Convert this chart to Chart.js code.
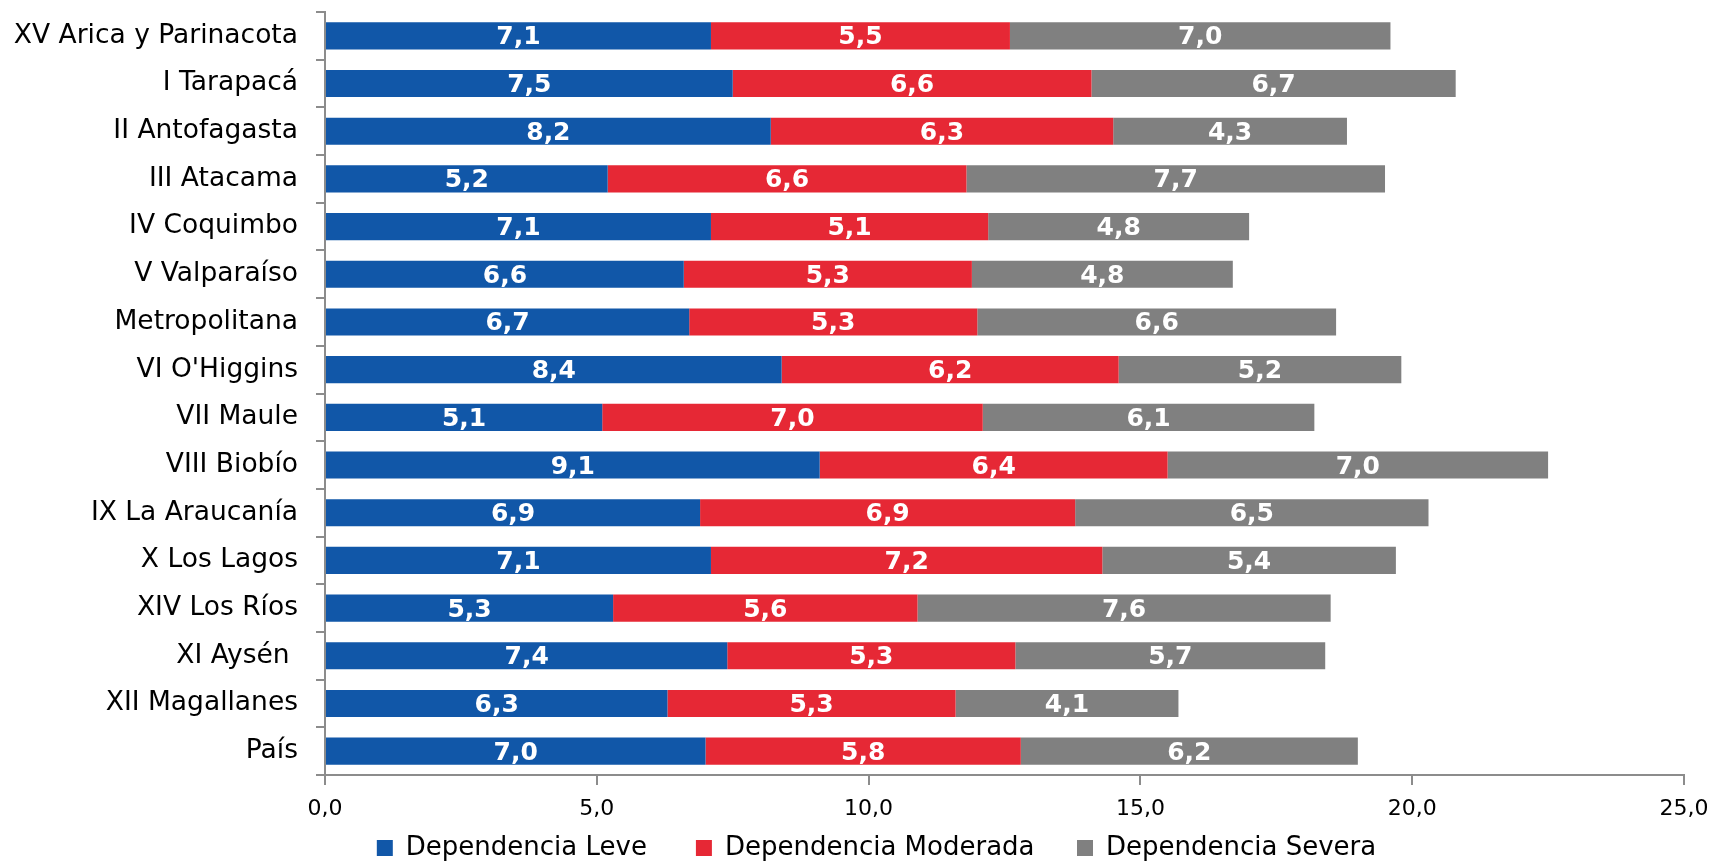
<!DOCTYPE html>
<html>
<head>
<meta charset="utf-8">
<script src="https://cdn.jsdelivr.net/npm/chart.js@4"></script>
<style>
  html, body { margin: 0; padding: 0; background: #fff; }
  #wrap { width: 1709px; height: 861px; }
</style>
</head>
<body>
<div id="wrap"><canvas id="chart-dependencia"></canvas></div>
<script>
// datos por región
const regiones = ['XV Arica y Parinacota','I Tarapacá','II Antofagasta','III Atacama','IV Coquimbo',
  'V Valparaíso','Metropolitana',"VI O'Higgins",'VII Maule','VIII Biobío','IX La Araucanía',
  'X Los Lagos','XIV Los Ríos','XI Aysén ','XII Magallanes','País'];
const leve     = [7.1,7.5,8.2,5.2,7.1,6.6,6.7,8.4,5.1,9.1,6.9,7.1,5.3,7.4,6.3,7.0];
const moderada = [5.5,6.6,6.3,6.6,5.1,5.3,5.3,6.2,7.0,6.4,6.9,7.2,5.6,5.3,5.3,5.8];
const severa   = [7.0,6.7,4.3,7.7,4.8,4.8,6.6,5.2,6.1,7.0,6.5,5.4,7.6,5.7,4.1,6.2];
const ejeX     = [0, 5, 10, 15, 20, 25];

const FONT = '"DejaVu Sans", Verdana, sans-serif';
const fmt = v => v.toFixed(1).replace('.', ',');

// etiquetas blancas dentro de cada barra
const etiquetas = {
  id: 'etiquetas',
  afterLayout(chart) {
    // la leyenda original no queda centrada en el lienzo
    chart.legend.left += 22;
    chart.legend.right += 22;
  },
  afterDatasetsDraw(chart) {
    const ctx = chart.ctx;
    ctx.save();
    ctx.fillStyle = '#fff';
    ctx.font = 'bold 25px ' + FONT;
    ctx.textAlign = 'center';
    ctx.textBaseline = 'middle';
    chart.data.datasets.forEach((ds, i) => {
      chart.getDatasetMeta(i).data.forEach((bar, j) => {
        const p = bar.getProps(['x', 'y', 'base'], true);
        ctx.fillText(fmt(ds.data[j]), (p.x + p.base) / 2, p.y + 2);
      });
    });
    ctx.restore();
  }
};

const ax = '#8c8c8c';
const espacios = ['\u2002\u2002\u2002', '\u2002\u2002\u2005', ''];

new Chart(document.getElementById('chart-dependencia'), {
  type: 'bar',
  data: {
    labels: regiones,
    datasets: [
      { label: 'Dependencia Leve', data: leve, backgroundColor: '#1157a8' },
      { label: 'Dependencia Moderada', data: moderada, backgroundColor: '#e62835' },
      { label: 'Dependencia Severa', data: severa, backgroundColor: '#808080' }
    ]
  },
  options: {
    indexAxis: 'y',
    responsive: true,
    maintainAspectRatio: false,
    animation: false,
    layout: { padding: { top: 12, right: 0, left: 0, bottom: 0 } },
    datasets: { bar: { categoryPercentage: 0.57, barPercentage: 1 } },
    scales: {
      x: {
        stacked: true, min: 0, max: 25,
        afterBuildTicks: s => { s.ticks = ejeX.map(v => ({ value: v })); },
        afterFit: s => { s.height = 50; s.paddingRight = 25; },
        border: { color: ax, width: 2 },
        grid: { drawOnChartArea: false, color: ax, lineWidth: 2, tickLength: 10 },
        ticks: { color: '#000', font: { family: FONT, size: 22 }, padding: 11,
                 callback: v => fmt(v) }
      },
      y: {
        stacked: true,
        afterFit: s => { s.width = 325; s.paddingTop = 0; s.paddingBottom = 0; },
        border: { color: ax, width: 2 },
        grid: { drawOnChartArea: false, color: ax, lineWidth: 2, tickLength: 9, offset: true },
        ticks: { color: '#000', font: { family: FONT, size: 26.5 }, padding: 18 }
      }
    },
    plugins: {
      legend: {
        position: 'bottom',
        maxHeight: 36,
        labels: {
          color: '#000', font: { family: FONT, size: 26 }, boxWidth: 16, boxHeight: 16, padding: 10,
          // espacio extra entre elementos de la leyenda
          generateLabels: chart => {
            const items = Chart.defaults.plugins.legend.labels.generateLabels(chart);
            items.forEach((it, i) => { it.text += espacios[i] || ''; });
            return items;
          }
        }
      },
      tooltip: { enabled: false }
    }
  },
  plugins: [etiquetas]
});
</script>
</body>
</html>
